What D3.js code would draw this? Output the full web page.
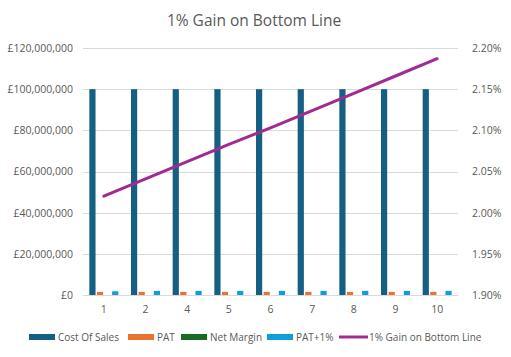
<!DOCTYPE html>
<html><head><meta charset="utf-8">
<script src="https://cdn.jsdelivr.net/npm/d3@7"></script>
<style>
html,body{margin:0;padding:0;background:#fff;}
svg{display:block;font-family:"Open Sans",sans-serif;}
</style></head>
<body><svg id="c" width="511" height="357"></svg>
<script>
const categories = ["1","2","4","5","6","7","8","9","10"];
const costOfSales = [100000000,100000000,100000000,100000000,100000000,100000000,100000000,100000000,100000000];
const pat = [1500000,1500000,1500000,1500000,1500000,1500000,1500000,1500000,1500000];
const netMargin = [0.015,0.015,0.015,0.015,0.015,0.015,0.015,0.015,0.015];
const patPlus1 = [1800000,2000000,2000000,2000000,2000000,2000000,2000000,2000000,2000000];
const gainLine = [0.02020,0.02041,0.02062,0.02083,0.02103,0.02124,0.02145,0.02166,0.02187];
const leftTicks = [0,20000000,40000000,60000000,80000000,100000000,120000000];
const rightTicks = [0.019,0.0195,0.020,0.0205,0.021,0.0215,0.022];

const seriesNames = ["Cost Of Sales","PAT","Net Margin","PAT+1%"];
const seriesVals = [costOfSales, pat, netMargin, patPlus1];
const colors = ["#156082","#E97132","#196B24","#0F9ED5"];
const lineColor = "#A02B93";
const lineName = "1% Gain on Bottom Line";

const svg = d3.select("#c");
const L = 83, R = 458, T = 48, B = 295;

const x = d3.scaleBand().domain(categories).range([L, R]);
const inner = d3.scaleBand().domain(seriesNames).range([-15.2, 15.2]);
const y = d3.scaleLinear().domain([0, 120000000]).range([B, T]);
const y2 = d3.scaleLinear().domain([0.019, 0.022]).range([B, T]);

// title
svg.append("text").attr("x", 254).attr("y", 26).attr("text-anchor","middle")
  .attr("font-size", 15.5).attr("fill", "#595959").text(lineName);

// gridlines
svg.append("g").selectAll("line").data(leftTicks).join("line")
  .attr("x1", L).attr("x2", R).attr("y1", d => Math.round(y(d))+0.5).attr("y2", d => Math.round(y(d))+0.5)
  .attr("stroke", "#d9d9d9").attr("stroke-width", 1);

// left axis
const la = svg.append("g").attr("transform", `translate(${L},0)`)
  .call(d3.axisLeft(y).tickValues(leftTicks).tickSize(0).tickPadding(10).tickFormat(d => "£" + d3.format(",")(d)));
la.select(".domain").remove();
la.selectAll("text").attr("font-size", 10.5).attr("fill", "#595959").attr("font-family", "Open Sans");

// right axis
const ra = svg.append("g").attr("transform", `translate(${R},0)`)
  .call(d3.axisRight(y2).tickValues(rightTicks).tickSize(0).tickPadding(14).tickFormat(d3.format(".2%")));
ra.select(".domain").remove();
ra.selectAll("text").attr("font-size", 10.5).attr("fill", "#595959").attr("font-family", "Open Sans");

// bottom axis
const ba = svg.append("g").attr("transform", `translate(0,${B})`)
  .call(d3.axisBottom(x).tickSize(0).tickPadding(11));
ba.select(".domain").remove();
ba.selectAll("text").attr("font-size", 10.5).attr("fill", "#595959").attr("font-family", "Open Sans");

// bars
seriesNames.forEach((s, si) => {
  svg.append("g").selectAll("rect").data(categories).join("rect")
    .attr("x", c => x(c) + x.bandwidth()/2 + inner(s) + 0.7)
    .attr("width", inner.bandwidth() - 1.4)
    .attr("y", (c, i) => y(seriesVals[si][i]))
    .attr("height", (c, i) => B - y(seriesVals[si][i]))
    .attr("fill", colors[si]);
});

// line
const line = d3.line().x((d, i) => x(categories[i]) + x.bandwidth()/2).y(d => y2(d));
svg.append("path").datum(gainLine).attr("d", line).attr("fill","none")
  .attr("stroke", lineColor).attr("stroke-width", 3).attr("stroke-linecap","round");

// legend
const leg = svg.append("g").attr("font-size", 10).attr("fill", "#595959");
const items = [
  {name: seriesNames[0], c: colors[0], x: 29, t: "rect"},
  {name: seriesNames[1], c: colors[1], x: 128, t: "rect"},
  {name: seriesNames[2], c: colors[2], x: 181, t: "rect"},
  {name: seriesNames[3], c: colors[3], x: 267, t: "rect"},
  {name: lineName, c: lineColor, x: 339, t: "line"}
];
items.forEach(it => {
  if (it.t === "rect") {
    leg.append("rect").attr("x", it.x).attr("y", 334).attr("width", 26).attr("height", 6).attr("fill", it.c);
  } else {
    leg.append("line").attr("x1", it.x).attr("x2", it.x + 29).attr("y1", 337).attr("y2", 337)
      .attr("stroke", it.c).attr("stroke-width", 3);
  }
  leg.append("text").attr("x", it.x + (it.t === "rect" ? 29 : 30)).attr("y", 341).text(it.name);
});
</script></body></html>
